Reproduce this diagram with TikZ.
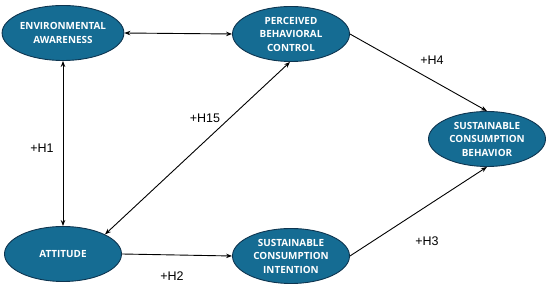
\documentclass[tikz,border=0pt]{standalone}
\usepackage{fontspec}
\setmainfont{Liberation Sans}
\newfontfamily\nodefont{Open Sans}
\usetikzlibrary{shapes.geometric,arrows.meta}
\definecolor{nodefill}{HTML}{156C93}
\definecolor{nodeline}{HTML}{0E3550}
\tikzset{
  construct/.style={ellipse, draw=nodeline, line width=0.9pt, fill=nodefill,
    minimum width=117pt, minimum height=55pt, inner sep=0pt, text=white,
    align=center, font=\nodefont\bfseries\fontsize{9.9}{13.5}\selectfont},
  link/.style={line width=0.9pt, -{Stealth[length=6pt,width=4.5pt]}},
  twolink/.style={line width=0.9pt, {Stealth[length=6pt,width=4.5pt]}-{Stealth[length=6pt,width=4.5pt]}},
  hyp/.style={font=\fontsize{12.5}{14}\selectfont, inner sep=0pt}
}
\begin{document}
\begin{tikzpicture}[x=1pt,y=-1pt]
\useasboundingbox (0,0) rectangle (550,288);
\node[construct] (EA)  at (63,33)  {ENVIRONMENTAL\\AWARENESS};
\node[construct] (PBC) at (291,34) {PERCEIVED\\BEHAVIORAL\\CONTROL};
\node[construct] (SCB) at (487,139) {SUSTAINABLE\\CONSUMPTION\\BEHAVIOR};
\node[construct] (ATT) at (63,254) {ATTITUDE};
\node[construct] (SCI) at (291,256) {SUSTAINABLE\\CONSUMPTION\\INTENTION};
\draw[twolink] (EA.east) -- (PBC.west);
\draw[twolink] (EA.south) -- (ATT.north);
\draw[twolink] (ATT.25) -- (PBC.268);
\draw[link] (PBC.east) -- (SCB.north);
\draw[link] (ATT.east) -- (SCI.west);
\draw[link] (SCI.east) -- (SCB.south);
\node[hyp] (h1)  at (42,148)  {+H1};
\node[hyp] (h15) at (205,118) {+H15};
\node[hyp] (h4)  at (432,60)  {+H4};
\node[hyp] (h2)  at (172,276) {+H2};
\node[hyp] (h3)  at (427,241) {+H3};
\end{tikzpicture}
\end{document}
